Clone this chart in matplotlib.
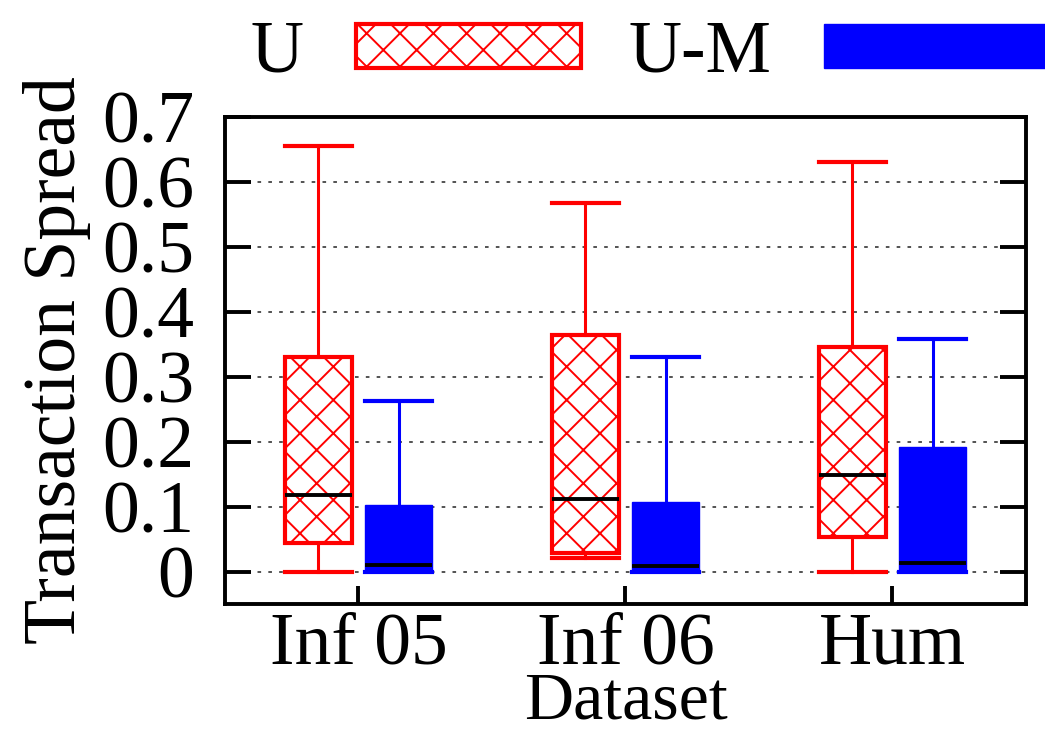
import matplotlib
matplotlib.use('Agg')
import matplotlib.pyplot as plt
from matplotlib.patches import Patch

plt.rcParams['font.family'] = ['Liberation Serif', 'DejaVu Serif']
plt.rcParams['hatch.linewidth'] = 1.4

datasets = ['Inf 05', 'Inf 06', 'Hum']
series = ['U', 'U-M']
# per dataset: whisker low, q1, median, q3, whisker high
u_whislo = [0.0, 0.021, 0.0]
u_q1 = [0.044, 0.029, 0.053]
u_med = [0.118, 0.112, 0.149]
u_q3 = [0.331, 0.365, 0.346]
u_whishi = [0.655, 0.568, 0.630]

um_whislo = [0.0, 0.0, 0.0]
um_q1 = [0.0, 0.0, 0.0]
um_med = [0.010, 0.008, 0.013]
um_q3 = [0.102, 0.107, 0.192]
um_whishi = [0.263, 0.331, 0.358]

fs = 53
fig = plt.figure(figsize=(10.45, 7.42), dpi=100)
ax = fig.add_axes([0.2153, 0.186, 0.7665, 0.6563])


def stats(lo, q1, med, q3, hi):
    out = []
    for i in range(len(lo)):
        out.append({'whislo': lo[i], 'q1': q1[i], 'med': med[i],
                    'q3': q3[i], 'whishi': hi[i], 'fliers': []})
    return out


pos = range(1, len(datasets) + 1)
w = 0.25
ax.bxp(stats(u_whislo, u_q1, u_med, u_q3, u_whishi),
       positions=[p - 0.15 for p in pos], widths=w, capwidths=w,
       patch_artist=True, showfliers=False,
       boxprops=dict(facecolor='white', edgecolor='red', hatch='x', linewidth=3),
       whiskerprops=dict(color='red', linewidth=2.2),
       capprops=dict(color='red', linewidth=3),
       medianprops=dict(color='black', linewidth=2.8))
ax.bxp(stats(um_whislo, um_q1, um_med, um_q3, um_whishi),
       positions=[p + 0.15 for p in pos], widths=w, capwidths=w,
       patch_artist=True, showfliers=False,
       boxprops=dict(facecolor='blue', edgecolor='blue', linewidth=1),
       whiskerprops=dict(color='blue', linewidth=2.2),
       capprops=dict(color='blue', linewidth=3),
       medianprops=dict(color='black', linewidth=2.8))

ax.set_xlim(0.5, 3.5)
ax.set_ylim(-0.05, 0.7)
ax.set_xticks(list(pos))
ax.set_xticklabels(datasets, fontsize=fs)
ax.set_yticks([0, 0.1, 0.2, 0.3, 0.4, 0.5, 0.6, 0.7])
ax.set_yticklabels(['0', '0.1', '0.2', '0.3', '0.4', '0.5', '0.6', '0.7'], fontsize=fs)
ax.tick_params(axis='y', direction='in', length=19, width=2.8, right=True, pad=22)
ax.tick_params(axis='x', direction='in', length=13, width=2.8, pad=6)
ax.grid(axis='y', linestyle=(0, (2, 4)), color='#444444', linewidth=1.3)
ax.set_axisbelow(True)
for s in ax.spines.values():
    s.set_linewidth(2.8)

ax.set_ylabel('Transaction Spread', fontsize=fs, labelpad=8)
ax.set_xlabel('Dataset', fontsize=49, labelpad=-6)

handles = [Patch(facecolor='white', edgecolor='red', hatch='x', linewidth=3),
           Patch(facecolor='blue', edgecolor='blue')]
fig.legend(handles, series, loc='upper left', bbox_to_anchor=(0.176, 1.062),
           ncol=2, frameon=False, fontsize=fs, markerfirst=False,
           handlelength=3.05, handleheight=0.55, handletextpad=0.72,
           columnspacing=0.65)

fig.savefig('out.png', dpi=100)
